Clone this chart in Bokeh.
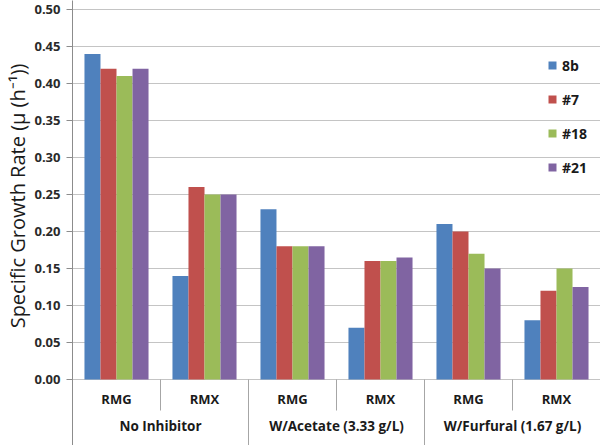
from bokeh.plotting import figure
from bokeh.models import (Range1d, FixedTicker, Legend, LegendItem, Title,
                          ColumnDataSource, NumeralTickFormatter)
from bokeh.core.properties import value
from bokeh.embed import file_html
from bokeh.resources import INLINE

# ---- data ----
subcats = ["RMG", "RMX", "RMG", "RMX", "RMG", "RMX"]
groups = ["No Inhibitor", "W/Acetate (3.33 g/L)", "W/Furfural (1.67 g/L)"]
series_names = ["8b", "#7", "#18", "#21"]
s_8b = [0.44, 0.14, 0.23, 0.07, 0.21, 0.08]
s_7 = [0.42, 0.26, 0.18, 0.16, 0.20, 0.12]
s_18 = [0.41, 0.25, 0.18, 0.16, 0.17, 0.15]
s_21 = [0.42, 0.25, 0.18, 0.165, 0.15, 0.125]
y_ticks = [0.0, 0.05, 0.10, 0.15, 0.20, 0.25, 0.30, 0.35, 0.40, 0.45, 0.50]

series = [s_8b, s_7, s_18, s_21]
colors = ["#4F81BD", "#C0504D", "#9BBB59", "#8064A2"]

FONT = "Open Sans"
Y_BOTTOM = -0.0892
Y_TOP = 0.5122

p = figure(width=600, height=445, x_range=Range1d(0, len(subcats)),
           y_range=Range1d(Y_BOTTOM, Y_TOP), x_axis_location=None,
           output_backend="svg", toolbar_location=None,
           min_border_left=72, min_border_right=0, min_border_top=0,
           min_border_bottom=0)
p.outline_line_color = None
p.background_fill_color = "white"
p.border_fill_color = "white"

# y axis
ax = p.yaxis[0]
ax.ticker = FixedTicker(ticks=y_ticks)
ax.formatter = NumeralTickFormatter(format="0.00")
ax.major_tick_out = 6
ax.major_tick_in = 0
ax.minor_tick_line_color = None
ax.axis_line_color = "#8C8C8C"
ax.major_tick_line_color = "#8C8C8C"
ax.major_label_text_font = FONT
ax.major_label_text_font_size = "13px"
ax.major_label_text_font_style = "bold"
ax.major_label_text_color = "#2a2a2a"
ax.major_label_standoff = 6

p.xgrid.visible = False
p.ygrid.grid_line_color = "#C4C4C4"
p.ygrid.grid_line_width = 1

# bars
bw = 0.182
renderers = []
for k, (vals, col) in enumerate(zip(series, colors)):
    xs = [i + 0.5 + (k - 1.5) * bw for i in range(len(subcats))]
    src = ColumnDataSource(dict(x=xs, top=vals))
    r = p.vbar(x="x", top="top", width=bw, bottom=0, source=src,
               fill_color=col, line_color=None)
    renderers.append(r)

# category axis (Excel style)
sub_src = ColumnDataSource(dict(x=[i + 0.5 for i in range(len(subcats))],
                                y=[-0.0257] * len(subcats), t=subcats))
p.text(x="x", y="y", text="t", source=sub_src, text_font=value(FONT),
       text_font_size="13px", text_font_style="bold", text_color="#1a1a1a",
       text_align="center", text_baseline="middle")
grp_src = ColumnDataSource(dict(x=[2 * g + 1 for g in range(len(groups))],
                                y=[-0.0622] * len(groups), t=groups))
p.text(x="x", y="y", text="t", source=grp_src, text_font=value(FONT),
       text_font_size="13.5px", text_font_style="bold", text_color="#1a1a1a",
       text_align="center", text_baseline="middle")

short_x = [2 * g + 1 for g in range(len(groups))]
long_x = [2 * g for g in range(1, len(groups))]
p.segment(x0=short_x, y0=[0] * len(short_x), x1=short_x,
          y1=[-0.0419] * len(short_x), line_color="#A6A6A6", line_width=1)
p.segment(x0=long_x, y0=[0] * len(long_x), x1=long_x,
          y1=[Y_BOTTOM] * len(long_x), line_color="#A6A6A6", line_width=1)

# y axis title
p.add_layout(Title(text="Specific Growth Rate (\u03bc (h\u207b\u00b9))",
                   align="right", offset=63, standoff=1,
                   text_font=FONT, text_font_size="20px",
                   text_font_style="normal", text_color="#1a1a1a"), "left")

# legend
legend = Legend(items=[LegendItem(label=n, renderers=[r])
                       for n, r in zip(series_names, renderers)],
                location=(475, 268), orientation="vertical",
                glyph_width=10, glyph_height=10, label_height=20,
                label_standoff=5, spacing=14, padding=0, margin=0,
                border_line_color=None, background_fill_alpha=0,
                label_text_font=FONT, label_text_font_size="14px",
                label_text_font_style="bold", label_text_color="#1a1a1a")
p.add_layout(legend, "center")

open("out.html", "w").write(file_html(p, INLINE))
